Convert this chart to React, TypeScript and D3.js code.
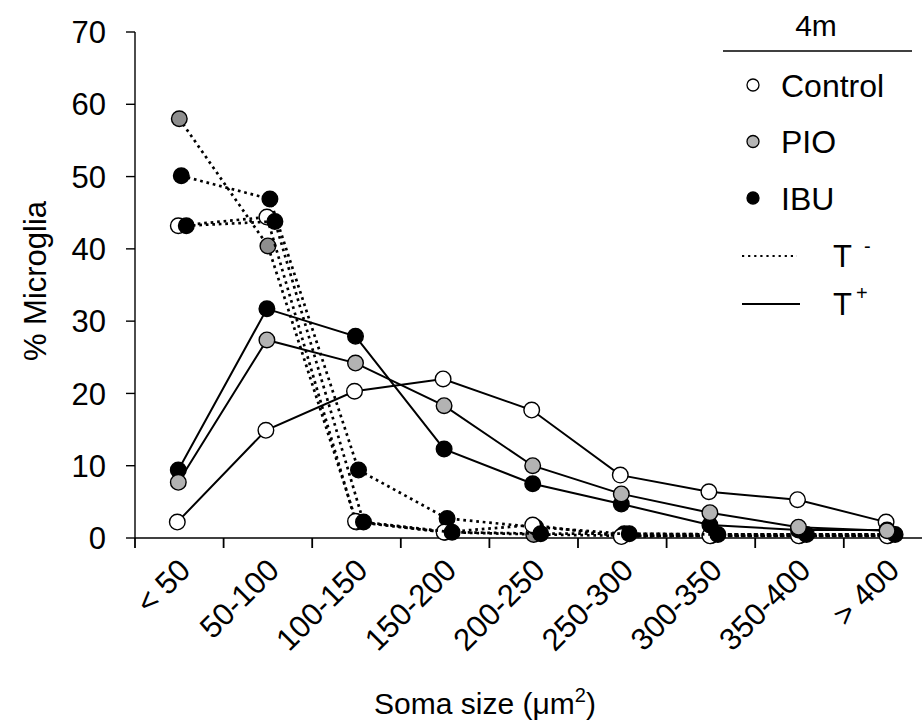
import React from "react";
import * as d3 from "d3";

const categories = ["< 50", "50-100", "100-150", "150-200", "200-250", "250-300", "300-350", "350-400", "> 400"];
const yTicks = [0, 10, 20, 30, 40, 50, 60, 70];

// T- (dotted) series
const pioTminus = [58.0, 40.4, 2.2, 0.8, 0.5, 0.3, 0.3, 0.3, 0.3];
const ibuTminusA = [50.1, 46.9, 9.4, 2.7, 1.5, 0.6, 0.5, 0.5, 0.5];
const controlTminus = [43.2, 44.4, 2.3, 0.8, 1.8, 0.2, 0.3, 0.3, 0.3];
const ibuTminusB = [43.2, 43.8, 2.2, 0.8, 0.6, 0.6, 0.5, 0.5, 0.5];

// T+ (solid) series
const controlTplus = [2.2, 14.9, 20.3, 22.0, 17.7, 8.7, 6.4, 5.3, 2.2];
const ibuTplus = [9.4, 31.7, 27.9, 12.3, 7.5, 4.7, 1.8, 1.1, 1.1];
const pioTplus = [7.7, 27.4, 24.2, 18.3, 10.0, 6.1, 3.5, 1.5, 1.0];

const legendGroups = ["Control", "PIO", "IBU"];

const FONT = "'Liberation Sans', Arial, Helvetica, sans-serif";

type Series = { name: string; values: number[]; fill: string; dashed: boolean; dx: number };

const series: Series[] = [
  { name: "PIO T-", values: pioTminus, fill: "#8e8e8e", dashed: true, dx: 0 },
  { name: "IBU T- a", values: ibuTminusA, fill: "#000000", dashed: true, dx: 2 },
  { name: "Control T-", values: controlTminus, fill: "#ffffff", dashed: true, dx: -1 },
  { name: "IBU T- b", values: ibuTminusB, fill: "#000000", dashed: true, dx: 7 },
  { name: "Control T+", values: controlTplus, fill: "#ffffff", dashed: false, dx: -2 },
  { name: "IBU T+", values: ibuTplus, fill: "#000000", dashed: false, dx: -1 },
  { name: "PIO T+", values: pioTplus, fill: "#b3b3b3", dashed: false, dx: -1 },
];

const legendFills = ["#ffffff", "#b5b5b5", "#000000"];

export default function App() {
  const x0 = 135;
  const step = 88.6;
  const x = d3
    .scaleBand<string>()
    .domain(categories)
    .range([x0, x0 + step * categories.length])
    .paddingInner(0)
    .paddingOuter(0);
  const y = d3.scaleLinear().domain([0, 70]).range([538, 32]);
  const cx = (i: number) => (x(categories[i]) as number) + x.bandwidth() / 2;

  const tickXs = categories.map((c) => x(c) as number);

  return (
    <div>
      <style>{"body{margin:0;}"}</style>
      <svg width={922} height={726} style={{ display: "block", background: "#fff" }} fontFamily={FONT}>
        {/* axes */}
        <line x1={x0} x2={922} y1={y(0)} y2={y(0)} stroke="#000" strokeWidth={1.4} />
        <line x1={x0} x2={x0} y1={y(70)} y2={y(0) + 1} stroke="#000" strokeWidth={1.4} />
        {yTicks.map((t) => (
          <g key={t}>
            <line x1={x0 - 9} x2={x0} y1={y(t)} y2={y(t)} stroke="#000" strokeWidth={1.4} />
            <text x={106} y={y(t)} dy="0.36em" textAnchor="end" fontSize={31} fill="#000">
              {t}
            </text>
          </g>
        ))}
        {tickXs.map((tx, i) => (
          <line key={i} x1={tx} x2={tx} y1={y(0)} y2={y(0) + 10} stroke="#000" strokeWidth={1.8} />
        ))}
        {categories.map((c, i) => (
          <text
            key={c}
            transform={`translate(${cx(i) + 13},${572}) rotate(-45)`}
            textAnchor="end"
            fontSize={31}
            fill="#000"
          >
            {c}
          </text>
        ))}

        {/* axis titles */}
        <text transform="translate(46,281) rotate(-90)" textAnchor="middle" fontSize={31} fill="#000">
          % Microglia
        </text>
        <text x={485} y={714} textAnchor="middle" fontSize={30} fill="#000">
          Soma size (μm<tspan fontSize={20} dy={-12}>2</tspan>
          <tspan dy={12}>)</tspan>
        </text>

        {/* series */}
        {series.map((s) => {
          const path = d3
            .line<number>()
            .x((_, i) => cx(i) + s.dx)
            .y((d) => y(d))(s.values) as string;
          return (
            <g key={s.name}>
              <path
                d={path}
                fill="none"
                stroke="#000"
                strokeWidth={s.dashed ? 2.7 : 2}
                strokeDasharray={s.dashed ? "2.7 3.8" : undefined}
              />
              {s.values.map((v, i) => (
                <circle key={i} cx={cx(i) + s.dx} cy={y(v)} r={7.8} fill={s.fill} stroke="#000" strokeWidth={1.4} />
              ))}
            </g>
          );
        })}

        {/* legend */}
        <text x={816} y={36} textAnchor="middle" fontSize={30} fill="#000">
          4m
        </text>
        <line x1={723} x2={912} y1={51} y2={51} stroke="#000" strokeWidth={1.5} />
        {legendGroups.map((g, i) => (
          <g key={g}>
            <circle cx={753} cy={85 + i * 56.5} r={6} fill={legendFills[i]} stroke="#000" strokeWidth={1.3} />
            <text x={781} y={85 + i * 56.5} dy="0.36em" fontSize={32} fill="#000">
              {g}
            </text>
          </g>
        ))}
        <line x1={742} x2={797} y1={256} y2={256} stroke="#000" strokeWidth={2.2} strokeDasharray="2.2 3.9" />
        <text x={833} y={267} fontSize={31} fill="#000">
          T
        </text>
        <text x={864} y={253} fontSize={20} fill="#000">
          -
        </text>
        <line x1={742} x2={800} y1={304} y2={304} stroke="#000" strokeWidth={2.2} />
        <text x={833} y={315} fontSize={31} fill="#000">
          T
        </text>
        <text x={856} y={300} fontSize={20} fill="#000">
          +
        </text>
      </svg>
    </div>
  );
}
